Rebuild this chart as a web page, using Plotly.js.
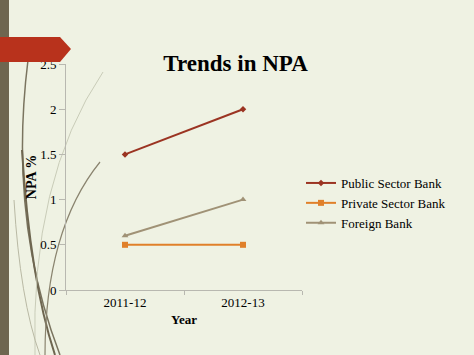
<!DOCTYPE html>
<html>
<head>
<meta charset="utf-8">
<script src="https://cdn.plot.ly/plotly-3.0.1.min.js"></script>
<style>html,body{margin:0;padding:0;background:#EEF1E1;}#chart{width:474px;height:355px;}</style>
</head>
<body>
<div id="chart"></div>
<script>
var years = ["2011-12", "2012-13"];
var publicSector = [1.5, 2.0];
var privateSector = [0.5, 0.5];
var foreignBank = [0.6, 1.0];
var yTicks = [0, 0.5, 1, 1.5, 2, 2.5];

var L = 66, R = 302, T = 64, B = 290;
function px(x){ return (x - L) / (R - L); }
function py(y){ return (B - y) / (B - T); }

var font = "'Liberation Serif', 'Times New Roman', serif";

var traces = [
  {x: years, y: publicSector, name: "Public Sector Bank", mode: "lines+markers",
   line: {color: "#9B3422", width: 2}, marker: {symbol: "diamond", size: 5, color: "#9B3422"}},
  {x: years, y: privateSector, name: "Private Sector Bank", mode: "lines+markers",
   line: {color: "#E0802A", width: 2}, marker: {symbol: "square", size: 6, color: "#E0802A"}},
  {x: years, y: foreignBank, name: "Foreign Bank", mode: "lines+markers",
   line: {color: "#A09276", width: 2}, marker: {symbol: "triangle-up", size: 6, color: "#A09276"}}
];

var shapes = [
  {type: "rect", xref: "paper", yref: "paper", x0: px(0), x1: px(9), y0: py(355), y1: py(0),
   fillcolor: "#6E6650", line: {width: 0}, layer: "below"},
  {type: "path", xref: "paper", yref: "paper", layer: "below",
   path: "M " + px(28) + " " + py(60) + " Q " + px(8) + " " + py(220) + " " + px(60) + " " + py(355),
   line: {color: "#7A745F", width: 1.5}},
  {type: "path", xref: "paper", yref: "paper", layer: "below",
   path: "M " + px(22) + " " + py(150) + " Q " + px(30) + " " + py(280) + " " + px(55) + " " + py(355),
   line: {color: "#6E6650", width: 2}},
  {type: "path", xref: "paper", yref: "paper", layer: "below",
   path: "M " + px(100) + " " + py(162) + " Q " + px(45) + " " + py(230) + " " + px(45) + " " + py(355),
   line: {color: "#8A846F", width: 1.2}},
  {type: "path", xref: "paper", yref: "paper", layer: "below",
   path: "M " + px(103) + " " + py(72) + " Q " + px(30) + " " + py(180) + " " + px(35) + " " + py(355),
   line: {color: "#C9CCB8", width: 1}},
  {type: "path", xref: "paper", yref: "paper", layer: "below",
   path: "M " + px(14) + " " + py(200) + " Q " + px(20) + " " + py(300) + " " + px(40) + " " + py(355),
   line: {color: "#B9B9A4", width: 1}},
  {type: "path", xref: "paper", yref: "paper", layer: "above",
   path: "M " + px(0) + " " + py(37) + " L " + px(60) + " " + py(37) + " L " + px(71) + " " + py(49) +
         " L " + px(60) + " " + py(62) + " L " + px(0) + " " + py(62) + " Z",
   fillcolor: "#B8321C", line: {width: 0}}
];

var layout = {
  width: 474, height: 355,
  margin: {l: L, r: 474 - R, t: T, b: 355 - B, pad: 0},
  paper_bgcolor: "#EFF2E3",
  plot_bgcolor: "rgba(0,0,0,0)",
  font: {family: font, size: 13, color: "#000"},
  title: {text: "<b>Trends in NPA</b>", font: {family: font, size: 23, color: "#000"},
          x: 0.497, xanchor: "center", y: 0.822, yanchor: "middle"},
  xaxis: {type: "category", range: [-0.5, 1.5], showgrid: false, zeroline: false,
          showline: true, linecolor: "#B8B8B0", linewidth: 1,
          ticks: "outside", tickson: "boundaries", ticklen: 4, tickcolor: "#B8B8B0",
          tickfont: {family: font, size: 13}, fixedrange: true,
          title: {text: "<b>Year</b>", font: {family: font, size: 13}, standoff: 6}},
  yaxis: {range: [0, 2.5], tickvals: yTicks, ticktext: yTicks.map(String), showgrid: false, zeroline: false,
          showline: true, linecolor: "#B8B8B0", linewidth: 1,
          ticks: "outside", ticklen: 6, tickcolor: "#B8B8B0",
          tickfont: {family: font, size: 13}, fixedrange: true,
          title: {text: "<b>NPA %</b>", font: {family: font, size: 14}, standoff: 0}},
  legend: {x: px(301), xanchor: "left", y: py(168), yanchor: "top",
           bgcolor: "rgba(0,0,0,0)", font: {family: font, size: 13}, tracegroupgap: 0},
  shapes: shapes,
  showlegend: true
};

Plotly.newPlot("chart", traces, layout, {staticPlot: true, displayModeBar: false});
</script>
</body>
</html>
